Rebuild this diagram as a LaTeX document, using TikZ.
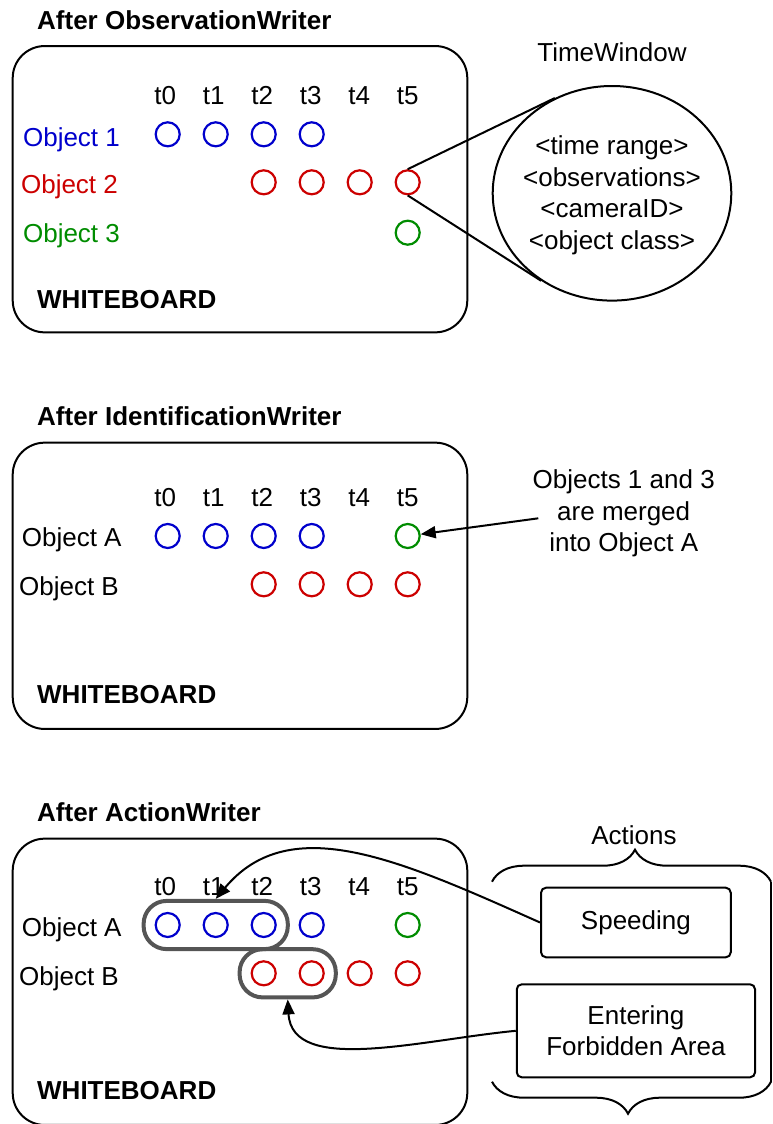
\documentclass[tikz,border=0pt]{standalone}
\usepackage{fontspec}
\setmainfont{Liberation Sans}
\usetikzlibrary{arrows.meta,shapes.geometric,decorations.pathreplacing,fit}

\definecolor{objblue}{RGB}{0,0,204}
\definecolor{objred}{RGB}{204,0,0}
\definecolor{objgreen}{RGB}{0,140,0}
\definecolor{capgray}{RGB}{85,85,85}
\newcommand\dgfont{\fontsize{26}{31.7}\selectfont}

\begin{document}
\begin{tikzpicture}[x=1pt, y=-1pt,
  every node/.style={inner sep=0pt, font=\dgfont},
  title/.style={anchor=base west, font=\dgfont\bfseries},
  board/.style={draw, line width=2pt, rounded corners=32pt,
                minimum width=454.6pt, minimum height=286.3pt},
  colhead/.style={anchor=base},
  rowlabel/.style={anchor=base},
  dot/.style={circle, draw, line width=2.2pt, minimum size=24pt},
  link/.style={line width=2pt},
  arrowed/.style={link, -{Triangle[length=15pt,width=12pt]}},
  capsule/.style={draw=capgray, line width=4pt, rounded corners=23pt, inner sep=11pt},
  actionbox/.style={draw, line width=2pt, rounded corners=5pt, align=center},
  bracket/.style={decorate, decoration={brace, amplitude=32pt, aspect=0.5125}, line width=2pt}]

\useasboundingbox (0,0) rectangle (772,1124);
\clip (0,0) rectangle (772,1124);

% ---------- After ObservationWriter ----------
\node[title] (title1) at (37,29.5) {After ObservationWriter};
\node[board] (wb1) at (240,189.2) {};
\foreach \i in {0,...,5}
  \node[colhead] (h1-\i) at ({165.2+48.5*\i},104.5) {t\i};
\node[rowlabel, objblue]  (obj1) at (71.5,146)   {Object 1};
\node[rowlabel, objred]   (obj2) at (69.5,193.3) {Object 2};
\node[rowlabel, objgreen] (obj3) at (71.5,242.7) {Object 3};
\foreach \i in {0,...,3}
  \node[dot, objblue] (a1-\i) at ({167.7+48*\i},134.3) {};
\foreach \i in {2,...,5}
  \node[dot, objred] (b1-\i) at ({167.7+48*\i},182.3) {};
\node[dot, objgreen] (c1-5) at ({167.7+48*5},232.7) {};
\node[title] (wbl1) at (37,308) {WHITEBOARD};

% time window detail
\node[anchor=base] (twlabel) at (612,62) {TimeWindow};
\node[draw, ellipse, line width=2pt, minimum width=238.6pt, minimum height=214.6pt]
  (tw) at (612,193.3) {};
\node[align=center] (twtext) at (612,195.3)
  {<time range>\\<observations>\\<cameraID>\\<object class>};
\draw[link] (b1-5.north) -- (tw.121);
\draw[link] (b1-5.south) -- (tw.231.5);

% ---------- After IdentificationWriter ----------
\node[title] (title2) at (37,425.5) {After IdentificationWriter};
\node[board] (wb2) at (240,585.8) {};
\foreach \i in {0,...,5}
  \node[colhead] (h2-\i) at ({165.2+48.5*\i},506.5) {t\i};
\node[rowlabel] (objA2) at (71.7,546.7) {Object A};
\node[rowlabel] (objB2) at (69,595)     {Object B};
\foreach \i in {0,...,3}
  \node[dot, objblue] (a2-\i) at ({167.7+48*\i},536) {};
\node[dot, objgreen] (a2-5) at ({167.7+48*5},536) {};
\foreach \i in {2,...,5}
  \node[dot, objred] (b2-\i) at ({167.7+48*\i},584.3) {};
\node[title] (wbl2) at (37,703.3) {WHITEBOARD};

\node[align=center] (merge) at (623.7,513.3)
  {Objects 1 and 3\\are merged\\into Object A};
\coordinate (mergetail) at (538.3,518.3);
\draw[arrowed] (mergetail) -- (a2-5);

% ---------- After ActionWriter ----------
\node[title] (title3) at (37,821.7) {After ActionWriter};
\node[board] (wb3) at (240,981.8) {};
\foreach \i in {0,...,5}
  \node[colhead] (h3-\i) at ({165.2+48.5*\i},895) {t\i};
\node[rowlabel] (objA3) at (71.7,936.7) {Object A};
\node[rowlabel] (objB3) at (69,985)     {Object B};
\foreach \i in {0,...,3}
  \node[dot, objblue] (a3-\i) at ({167.7+48*\i},925) {};
\node[dot, objgreen] (a3-5) at ({167.7+48*5},925) {};
\foreach \i in {2,...,5}
  \node[dot, objred] (b3-\i) at ({167.7+48*\i},973.3) {};
\node[title] (wbl3) at (37,1099.3) {WHITEBOARD};

\node[capsule, fit=(a3-0)(a3-2)] (capA) {};
\node[capsule, fit=(b3-2)(b3-3)] (capB) {};

% actions list
\node[anchor=base] (actions) at (634,844) {Actions};
\coordinate (bt-l) at (492,881.7);
\coordinate (bt-r) at (771,881.7);
\coordinate (bb-l) at (492,1081.7);
\coordinate (bb-r) at (771,1081.7);
\draw[bracket] (bt-l) -- (bt-r);
\draw[link] (bt-r) -- (bb-r);
\draw[bracket] (bb-r) -- (bb-l);

\node[actionbox, minimum width=189.7pt, minimum height=69.6pt]
  (speed) at (635.9,922.5) {Speeding};
\node[actionbox, minimum width=238.3pt, minimum height=93pt]
  (enter) at (635.9,1030.8) {Entering\\Forbidden Area};

\draw[arrowed] (speed.west) .. controls (400,860) and (290,810) .. (capA.north);
\draw[arrowed] (enter.west) .. controls (420,1040) and (292,1075) .. (capB.south);

\end{tikzpicture}
\end{document}
